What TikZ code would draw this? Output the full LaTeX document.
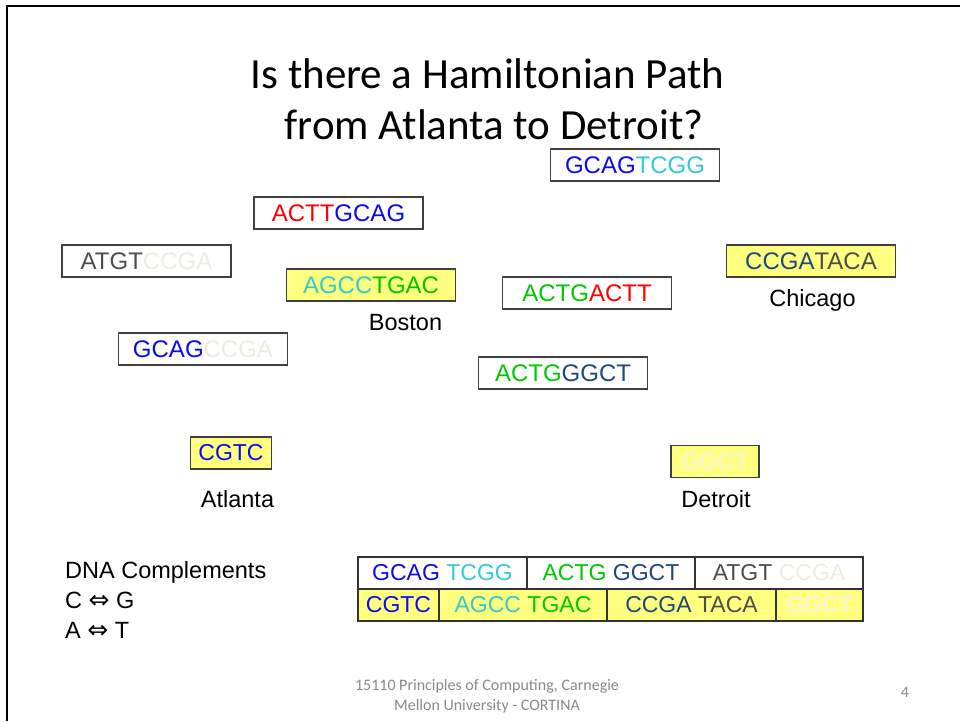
\documentclass[tikz,border=0pt]{standalone}
\usepackage{fontspec}
\setmainfont{Liberation Sans}
\newfontfamily\titlefont{Carlito}
\newfontfamily\symfont{DejaVu Sans}
\definecolor{cBlue}{RGB}{10,10,240}
\definecolor{cCyan}{RGB}{51,204,204}
\definecolor{cGreen}{RGB}{0,200,0}
\definecolor{cRed}{RGB}{255,0,0}
\definecolor{cNavy}{RGB}{31,73,125}
\definecolor{cGray}{RGB}{77,77,77}
\definecolor{cBeige}{RGB}{238,236,225}
\definecolor{cPale}{RGB}{242,242,240}
\definecolor{cYellow}{RGB}{255,255,128}
\definecolor{cFoot}{RGB}{137,137,137}
\tikzset{
  seqbox/.style={draw=black!75, line width=1.2pt, fill=white, minimum width=169pt, minimum height=32pt, inner sep=0pt, outer sep=0pt, font=\fontsize{24}{28}\selectfont},
  ybox/.style={seqbox, fill=cYellow},
  lbl/.style={anchor=base, inner sep=0pt, font=\fontsize{23.5}{28}\selectfont},
  cell/.style={draw=black!80, line width=1.2pt, anchor=north west, minimum height=32pt, inner sep=0pt, outer sep=0pt, font=\fontsize{23}{27}\selectfont},
  ttl/.style={anchor=base, inner sep=0pt, font=\titlefont\fontsize{43}{50}\selectfont},
  foot/.style={anchor=base, inner sep=0pt, text=cFoot, font=\titlefont\fontsize{16}{19}\selectfont},
  cmp/.style={anchor=base west, inner sep=0pt, font=\fontsize{23.5}{27}\selectfont},
  arr/.style={font=\symfont\fontsize{25}{27}\selectfont}
}
\begin{document}
\begin{tikzpicture}[x=1pt,y=-1pt]
\useasboundingbox (0,0) rectangle (960,721);
\draw[line width=2pt] (7,721) -- (7,6) -- (960,6);

% title
\node[ttl] (t1) at (487.5,88) {Is there a Hamiltonian Path};
\node[ttl] (t2) at (494,139) {from Atlanta to Detroit?};

% floating sequence boxes
\node[seqbox] (b1) at (635,165) {\textcolor{cBlue}{GCAG}\textcolor{cCyan}{TCGG}};
\node[seqbox] (b2) at (338.5,213) {\textcolor{cRed}{ACTT}\textcolor{cBlue}{GCAG}};
\node[seqbox] (b3) at (146.5,261) {\textcolor{cGray}{ATGT}\textcolor{cBeige}{CCGA}};
\node[ybox] (b4) at (371,285) {\textcolor{cCyan}{AGCC}\textcolor{cGreen}{TGAC}};
\node[lbl] (boston) at (405.5,330) {Boston};
\node[seqbox] (b5) at (203,349) {\textcolor{cBlue}{GCAG}\textcolor{cBeige}{CCGA}};
\node[seqbox] (b6) at (587,293) {\textcolor{cGreen}{ACTG}\textcolor{cRed}{ACTT}};
\node[ybox] (b7) at (811,261) {\textcolor{cNavy}{CCGA}\textcolor{cGray}{TACA}};
\node[lbl] (chicago) at (812.5,306) {Chicago};
\node[seqbox] (b8) at (563,373) {\textcolor{cGreen}{ACTG}\textcolor{cNavy}{GGCT}};
\node[ybox, minimum width=81pt, font=\fontsize{23}{27}\selectfont] (b9) at (231,453) {\textcolor{cBlue}{CGTC}};
\node[lbl] (atlanta) at (237.5,507) {Atlanta};
\node[ybox, minimum width=88pt, font=\fontsize{23}{27}\selectfont] (b10) at (715,461.5) {\textcolor{cPale}{GGCT}};
\node[lbl] (detroit) at (716,507) {Detroit};

% DNA complements
\node[cmp] (d1) at (65,578) {DNA Complements};
\node[cmp] (d2) at (65,608) {C {\symfont\fontsize{25}{27}\selectfont ⇔} G};
\node[cmp] (d3) at (65,638) {A {\symfont\fontsize{25}{27}\selectfont ⇔} T};

% table
\node[cell, minimum width=169pt] (c11) at (358,557) {\textcolor{cBlue}{GCAG} \textcolor{cCyan}{TCGG}};
\node[cell, minimum width=168pt] (c12) at (c11.north east) {\textcolor{cGreen}{ACTG} \textcolor{cNavy}{GGCT}};
\node[cell, minimum width=168pt] (c13) at (c12.north east) {\textcolor{cGray}{ATGT} \textcolor{cBeige}{CCGA}};
\node[cell, fill=cYellow, minimum width=81pt] (c21) at (c11.south west) {\textcolor{cBlue}{CGTC}};
\node[cell, fill=cYellow, minimum width=168pt] (c22) at (c21.north east) {\textcolor{cCyan}{AGCC} \textcolor{cGreen}{TGAC}};
\node[cell, fill=cYellow, minimum width=169pt] (c23) at (c22.north east) {\textcolor{cNavy}{CCGA} \textcolor{cGray}{TACA}};
\node[cell, fill=cYellow, minimum width=87pt] (c24) at (c23.north east) {\textcolor{cPale}{GGCT}};

% footer
\node[foot] (f1) at (487,690) {15110 Principles of Computing, Carnegie};
\node[foot] (f2) at (487,710) {Mellon University - CORTINA};
\node[foot] (pg) at (905,697) {4};
\end{tikzpicture}
\end{document}
